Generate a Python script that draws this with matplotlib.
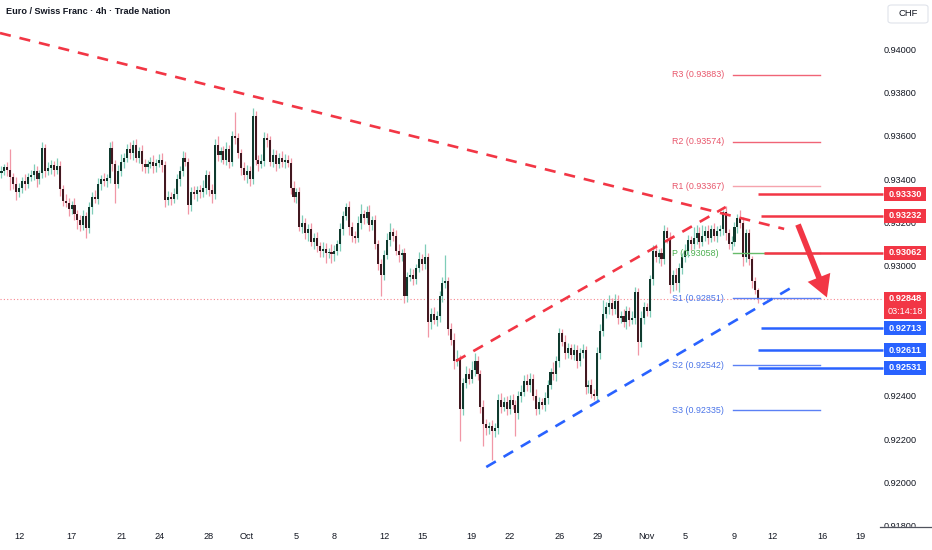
import numpy as np
import pandas as pd
import matplotlib
matplotlib.use("Agg")
import matplotlib.pyplot as plt
from matplotlib.patches import Rectangle, FancyArrowPatch, FancyBboxPatch
from matplotlib.lines import Line2D

plt.rcParams['font.family'] = ['Liberation Sans', 'DejaVu Sans']

# ---------------- data (prices in 1e-5 CHF) ----------------
first_open = 93430
closes = [
    93440, 93455, 93445, 93410, 93380, 93340, 93360, 93390, 93380, 93410,
    93420, 93440, 93400, 93430, 93545, 93440, 93450, 93465, 93445, 93460,
    93355, 93300, 93290, 93265, 93280, 93240, 93210, 93190, 93230, 93175,
    93270, 93320, 93310, 93380, 93400, 93390, 93405, 93545, 93470, 93380,
    93440, 93480, 93500, 93540, 93520, 93560, 93500, 93530, 93470, 93455,
    93470, 93480, 93460, 93475, 93490, 93465, 93305, 93320, 93310, 93330,
    93400, 93440, 93500, 93480, 93280, 93340, 93330, 93350, 93340, 93360,
    93420, 93350, 93330, 93560, 93510, 93530, 93490, 93540, 93480, 93600,
    93590, 93520, 93450, 93420, 93440, 93400, 93690, 93490, 93470, 93485,
    93590, 93580, 93480, 93510, 93470, 93500, 93480, 93490, 93475, 93360,
    93320, 93340, 93180, 93200, 93150, 93170, 93110, 93130, 93090, 93070,
    93080, 93060, 93065, 93055, 93070, 93100, 93170, 93230, 93270, 93180,
    93140, 93130, 93200, 93240, 93220, 93250, 93190, 93210, 93100, 93010,
    92960, 93050, 93120, 93155, 93140, 93070, 93050, 93060, 92860, 92950,
    92960, 92940, 92990, 93030, 93010, 93040, 92740, 92780, 92750, 92770,
    92860, 92920, 92930, 92710, 92660, 92560, 92570, 92340, 92460, 92500,
    92480, 92520, 92560, 92500, 92350, 92270, 92250, 92260, 92240, 92250,
    92380, 92350, 92370, 92340, 92380, 92360, 92320, 92400, 92420, 92470,
    92450, 92480, 92400, 92340, 92370, 92360, 92390, 92450, 92510, 92500,
    92560, 92690, 92650, 92600, 92620, 92590, 92610, 92560, 92600, 92610,
    92440, 92450, 92410, 92400, 92600, 92700, 92780, 92810, 92830, 92800,
    92840, 92760, 92770, 92740, 92790, 92750, 92760, 92880, 92650, 92760,
    92810, 92790, 92940, 93070, 93040, 93060, 93030, 93160, 93130, 92910,
    92960, 92920, 92990, 93040, 93070, 93120, 93100, 93130, 93150, 93110,
    93140, 93160, 93130, 93170, 93140, 93160, 93170, 93250, 93150, 93100,
    93110, 93180, 93220, 93200, 93040, 93150, 93030, 92930, 92890, 92848,
]
upper_wick = [
    20, 15, 25, 95, 20, 30, 25, 20, 35, 20,
    25, 30, 20, 15, 25, 20, 30, 25, 20, 40,
    25, 20, 30, 25, 20, 35, 20, 25, 30, 20,
    25, 20, 30, 25, 20, 30, 20, 25, 30, 20,
    25, 35, 20, 25, 30, 20, 25, 20, 30, 25,
    20, 25, 30, 20, 25, 30, 20, 25, 20, 30,
    25, 20, 30, 25, 20, 25, 30, 20, 25, 35,
    25, 20, 30, 25, 40, 20, 25, 30, 20, 25,
    110, 25, 20, 30, 25, 20, 40, 25, 20, 30,
    30, 25, 20, 30, 25, 20, 30, 25, 20, 25,
    30, 20, 25, 35, 20, 25, 30, 20, 25, 20,
    30, 25, 20, 35, 25, 20, 30, 25, 20, 30,
    25, 20, 30, 45, 20, 25, 30, 20, 25, 20,
    20, 25, 30, 45, 20, 25, 30, 20, 25, 20,
    30, 25, 20, 35, 25, 60, 20, 25, 30, 20,
    25, 30, 120, 20, 25, 30, 40, 20, 25, 40,
    30, 40, 40, 25, 20, 30, 25, 20, 30, 25,
    30, 35, 25, 30, 25, 30, 20, 25, 30, 25,
    30, 25, 20, 30, 25, 20, 30, 25, 20, 45,
    25, 25, 20, 30, 25, 20, 30, 25, 20, 30,
    20, 25, 30, 20, 25, 30, 65, 25, 35, 20,
    30, 25, 20, 30, 25, 20, 30, 25, 20, 30,
    25, 20, 20, 25, 30, 20, 25, 30, 20, 25,
    20, 30, 25, 20, 30, 25, 20, 50, 40, 30,
    50, 25, 30, 20, 30, 25, 20, 10, 25, 20,
    30, 25, 20, 40, 25, 20, 20, 15, 20, 10,
]
lower_wick = [
    25, 20, 30, 60, 25, 35, 20, 25, 30, 20,
    20, 25, 35, 20, 25, 30, 20, 25, 30, 20,
    30, 25, 20, 35, 25, 30, 40, 30, 25, 45,
    25, 30, 20, 25, 30, 20, 25, 20, 30, 90,
    20, 25, 30, 20, 25, 30, 20, 25, 30, 25,
    25, 20, 30, 25, 20, 30, 35, 25, 30, 20,
    20, 30, 25, 20, 40, 25, 20, 30, 25, 20,
    30, 25, 40, 20, 25, 30, 20, 25, 30, 20,
    25, 20, 30, 25, 35, 30, 20, 25, 30, 20,
    25, 30, 20, 25, 30, 20, 25, 30, 20, 30,
    25, 30, 20, 30, 25, 35, 20, 30, 25, 30,
    30, 45, 25, 40, 30, 20, 30, 25, 20, 35,
    30, 25, 20, 30, 25, 20, 30, 25, 20, 30,
    100, 25, 20, 30, 25, 20, 30, 25, 30, 25,
    20, 30, 25, 20, 30, 25, 70, 30, 20, 25,
    30, 25, 20, 30, 25, 35, 20, 150, 30, 25,
    25, 20, 30, 25, 30, 100, 30, 25, 135, 30,
    25, 30, 20, 30, 25, 20, 105, 25, 30, 20,
    25, 30, 20, 30, 25, 20, 30, 25, 20, 25,
    30, 25, 20, 30, 25, 20, 25, 30, 20, 25,
    30, 25, 20, 20, 25, 30, 25, 20, 30, 25,
    20, 30, 25, 20, 30, 25, 20, 30, 60, 25,
    30, 20, 25, 30, 20, 25, 30, 20, 25, 35,
    25, 30, 40, 25, 20, 30, 25, 20, 30, 25,
    20, 25, 30, 20, 25, 30, 20, 25, 30, 20,
    25, 20, 30, 25, 40, 20, 25, 30, 20, 18,
]

# time axis labels
tick_dates = ['2025-09-12', '2025-09-17', '2025-09-21', '2025-09-24', '2025-09-28',
              '2025-10-01', '2025-10-05', '2025-10-08', '2025-10-12', '2025-10-15',
              '2025-10-19', '2025-10-22', '2025-10-26', '2025-10-29', '2025-11-01',
              '2025-11-05', '2025-11-09', '2025-11-12', '2025-11-16', '2025-11-19']
tick_labels = ['12', '17', '21', '24', '28', 'Oct', '5', '8', '12', '15',
               '19', '22', '26', '29', 'Nov', '5', '9', '12', '16', '19']

# visible price-scale labels (0.928 / 0.926 are hidden behind tags)
price_ticks = [0.918, 0.920, 0.922, 0.924, 0.930, 0.932,
               0.934, 0.936, 0.938, 0.940]

# pivot levels
pivot_names = ['R3', 'R2', 'R1', 'P', 'S1', 'S2', 'S3']
pivot_values = [0.93883, 0.93574, 0.93367, 0.93058, 0.92851, 0.92542, 0.92335]
pivot_span = ('2025-11-09 21:00', '2025-11-14 17:00')
pivot_label_at = '2025-11-05 13:00'

# horizontal key levels
res_levels = [0.93330, 0.93232, 0.93062]
sup_levels = [0.92713, 0.92611, 0.92531]
res_starts = ['2025-11-11 05:00', '2025-11-11 09:00', '2025-11-11 13:00']
sup_starts = ['2025-11-11 09:00', '2025-11-11 05:00', '2025-11-11 05:00']

last_price = 0.92848
countdown = '03:14:18'

# trendlines: (time, price) endpoints
upper_trend = [('2025-09-11 01:00', 0.94075), ('2025-11-12 17:00', 0.93171)]
rise_red = [('2025-10-17 01:00', 0.92561), ('2025-11-07 09:00', 0.93272)]
rise_blue = [('2025-10-20 17:00', 0.92072), ('2025-11-13 09:00', 0.92912)]
arrow_pts = [('2025-11-13 09:00', 0.93203), ('2025-11-17 05:00', 0.92843)]

title = 'Euro / Swiss Franc · 4h · Trade Nation'

# ---------------- bar time index (FX 4h session bars) ----------------
ts = pd.date_range('2025-09-11 01:00', '2025-11-25 00:00', freq='4h')
wd = ts.weekday
keep = (wd <= 3) | ((wd == 4) & (ts.hour <= 17)) | ((wd == 6) & (ts.hour == 21))
ts = ts[keep]

def tx(t):
    return float(ts.searchsorted(pd.Timestamp(t)))

c = np.array(closes, dtype=float) / 1e5
o = np.concatenate([[first_open / 1e5], c[:-1]])
hi = np.maximum(o, c) + np.array(upper_wick) / 1e5
lo = np.minimum(o, c) - np.array(lower_wick) / 1e5
n = len(c)
x = np.arange(n)

RED = '#f23645'
BLUE = '#2962ff'

W, H = 932, 550
fig = plt.figure(figsize=(W / 100, H / 100), dpi=100)
fig.patch.set_facecolor('white')
ax_w, ax_h, ax_b = 877, 527, 23
ax = fig.add_axes([0, ax_b / H, ax_w / W, ax_h / H])
ax.set_facecolor('white')
for s in ax.spines.values():
    s.set_visible(False)

XL = (-0.51, 299.8)
ax.set_xlim(*XL)
ax.set_ylim(0.917952, 0.942275)
x_tag = 301.9  # where the price tags begin

# candles
up = c >= o
wick_col = np.where(up, '#7fcdb8', '#f197a6')
body_col = np.where(up, '#0f3a2e', '#421820')
ax.vlines(x, lo, hi, colors=wick_col, linewidth=0.9, zorder=2)
body_h = np.maximum(np.abs(c - o), 0.00004)
ax.bar(x, body_h, bottom=np.minimum(o, c), width=0.7, color=body_col,
       linewidth=0, zorder=3)

# current price dotted line
ax.plot([XL[0], x_tag], [last_price, last_price], color=RED, lw=0.8,
        ls=(0, (1, 2)), alpha=0.6, zorder=1, clip_on=False)

# pivot lines and labels
piv_x0, piv_x1 = tx(pivot_span[0]) - 0.5, tx(pivot_span[1]) + 0.3
lab_x = tx(pivot_label_at) - 7.4
for name, val in zip(pivot_names, pivot_values):
    if name.startswith('R'):
        lc = '#f5a3ad' if name == 'R1' else '#f06476'
        tc = '#e8566b'
    elif name == 'P':
        lc, tc = '#66bb6a', '#4caf50'
    else:
        lc, tc = '#5b80f5', '#4a74e8'
    ax.plot([piv_x0, piv_x1], [val, val], color=lc, lw=1.0, zorder=4)
    ax.text(lab_x, val, f'{name} ({val:.5f})', color=tc, fontsize=6.4,
            va='center', ha='left', zorder=4)

# key horizontal levels
for lvl, st in zip(res_levels, res_starts):
    ax.plot([tx(st), x_tag], [lvl, lvl], color=RED, lw=1.8, zorder=5,
            clip_on=False, solid_capstyle='butt')
for lvl, st in zip(sup_levels, sup_starts):
    ax.plot([tx(st), x_tag], [lvl, lvl], color=BLUE, lw=1.8, zorder=5,
            clip_on=False, solid_capstyle='butt')

# trendlines
def trend(pts, col, dx0=0.0):
    (t0, p0), (t1, p1) = pts
    ax.plot([tx(t0) + dx0, tx(t1)], [p0, p1], color=col, lw=1.9,
            ls=(0, (4.2, 3.4)), zorder=6, solid_capstyle='butt')

trend(upper_trend, RED, dx0=XL[0])
trend(rise_red, RED, dx0=-0.4)
trend(rise_blue, BLUE)

# arrow
(a0, ap0), (a1, ap1) = arrow_pts
arr = FancyArrowPatch((tx(a0) + 0.4, ap0), (tx(a1), ap1),
                      arrowstyle='simple,head_width=1.75,head_length=1.55,tail_width=0.42',
                      mutation_scale=10, color=RED, lw=0, zorder=7)
ax.add_patch(arr)

# axes ticks
ax.yaxis.tick_right()
ax.set_yticks(price_ticks)
ax.set_yticklabels([f'{p:.5f}' for p in price_ticks])
ax.tick_params(axis='y', length=0, pad=4.5, labelsize=6.6, labelcolor='#131722')
ax.set_xticks([tx(d) for d in tick_dates])
ax.set_xticklabels(tick_labels)
ax.tick_params(axis='x', length=0, pad=3.6, labelsize=6.6, labelcolor='#131722')

# price tags on the axis
yt = ax.get_yaxis_transform()
tag_x0 = 884 / ax_w
tag_w = 42 / ax_w
px_per_unit = ax_h / (0.942275 - 0.917952)
tag_h = 14 / px_per_unit

def tag(val, col, lines=None):
    hh = tag_h if lines is None else 27 / px_per_unit
    top = val + tag_h / 2
    r = Rectangle((tag_x0, top - hh), tag_w, hh, transform=yt, color=col,
                  clip_on=False, zorder=10, lw=0)
    ax.add_patch(r)
    ax.text(tag_x0 + tag_w / 2, val, f'{val:.5f}', transform=yt, color='white',
            fontsize=6.6, fontweight='bold', ha='center', va='center',
            zorder=11, clip_on=False)
    if lines:
        ax.text(tag_x0 + tag_w / 2, val - 13 / px_per_unit, lines, transform=yt,
                color='white', fontsize=6.6, ha='center', va='center',
                zorder=11, clip_on=False)

for lvl in res_levels:
    tag(lvl, RED)
for lvl in sup_levels:
    tag(lvl, BLUE)
tag(last_price, RED, countdown)

# time axis cover + separator on price axis
fig.patches.append(Rectangle((878 / W, 0), 54 / W, ax_b / H, transform=fig.transFigure,
                             color='white', zorder=20))
fig.lines.append(Line2D([880 / W, 1], [ax_b / H, ax_b / H], transform=fig.transFigure,
                        color='#50535e', lw=0.9, zorder=21))

# CHF box
fig.patches.append(FancyBboxPatch((888 / W, (H - 23) / H), 40 / W, 18 / H,
                                  boxstyle='round,pad=0,rounding_size=0.004',
                                  transform=fig.transFigure, facecolor='white',
                                  edgecolor='#e0e3eb', lw=0.8, zorder=20))
fig.text(908 / W, (H - 14) / H, 'CHF', fontsize=6.8, color='#131722',
         ha='center', va='center', zorder=21)

# title
fig.text(6 / W, (H - 12) / H, title, fontsize=6.6, fontweight='bold',
         color='#131722', ha='left', va='center')

fig.savefig('out.png', dpi=100)
